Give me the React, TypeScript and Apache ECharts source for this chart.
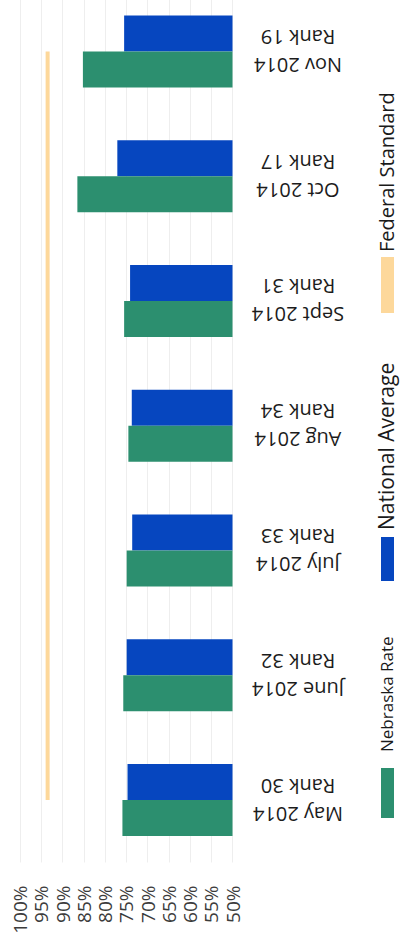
import React, { useEffect, useRef } from "react";
import * as echarts from "echarts";

// Monthly rates, 2014
const months = ["May 2014", "June 2014", "July 2014", "Aug 2014", "Sept 2014", "Oct 2014", "Nov 2014"];
const ranks = [30, 32, 33, 34, 31, 17, 19];
const nebraskaRate = [75.9, 75.7, 74.9, 74.5, 75.5, 86.5, 85.2];
const nationalAverage = [74.7, 74.9, 73.6, 73.7, 74.1, 77.1, 75.5];
const federalStandard = [93.5, 93.5, 93.5, 93.5, 93.5, 93.5, 93.5];
const valueTicks = { min: 50, max: 100, step: 5 };

const GREEN = "#2C8F6F";
const BLUE = "#0646BF";
const ORANGE = "#FDD89B";
const FONT = "'Open Sans', 'Noto Sans', sans-serif";

const categoryLabels = months.map((m, i) => `${m}\nRank ${ranks[i]}`);

// Legend entries stacked along the right edge, reading bottom-to-top
const legendItems = [
  { name: "Nebraska Rate", color: GREEN, swatchTop: 768, swatchH: 50, textStart: 752, size: 17 },
  { name: "National Average", color: BLUE, swatchTop: 537, swatchH: 44, textStart: 530, size: 21 },
  { name: "Federal Standard", color: ORANGE, swatchTop: 257, swatchH: 56, textStart: 252, size: 20 },
];

export default function App() {
  const ref = useRef<HTMLDivElement>(null);

  useEffect(() => {
    if (!ref.current) return;
    const chart = echarts.init(ref.current, null, { renderer: "svg" });

    const legendGraphics: any[] = [];
    legendItems.forEach((it) => {
      legendGraphics.push({
        type: "rect",
        shape: { x: 381, y: it.swatchTop, width: 13, height: it.swatchH },
        style: { fill: it.color },
      });
      legendGraphics.push({
        type: "text",
        x: 386,
        y: it.textStart,
        rotation: Math.PI / 2,
        style: {
          text: it.name,
          fill: "#1a1a1a",
          font: `${it.size}px ${FONT}`,
          align: "left",
          verticalAlign: "middle",
        },
      });
    });

    chart.setOption({
      animation: false,
      backgroundColor: "#ffffff",
      grid: {
        left: 20,
        right: 168.5,
        top: -11,
        bottom: 75.5,
        containLabel: false,
        outerBoundsMode: "none",
      },
      xAxis: {
        type: "value",
        inverse: true,
        position: "bottom",
        min: valueTicks.min,
        max: valueTicks.max,
        interval: valueTicks.step,
        axisLine: { show: false },
        axisTick: { show: false },
        splitLine: { show: true, lineStyle: { color: "#eeeeee", width: 1 } },
        axisLabel: {
          rotate: 90,
          margin: 23,
          formatter: "{value}%",
          fontSize: 19,
          fontFamily: FONT,
          color: "#3c3c3c",
          showMinLabel: true,
          showMaxLabel: true,
        },
      },
      yAxis: {
        type: "category",
        position: "right",
        data: categoryLabels,
        axisLine: { show: false },
        axisTick: { show: false },
        splitLine: { show: false },
        axisLabel: {
          interval: 0,
          rotate: 180,
          align: "center",
          verticalAlign: "middle",
          margin: 65.5,
          fontSize: 20,
          lineHeight: 28,
          fontFamily: FONT,
          color: "#1c1c1c",
        },
      },
      series: [
        {
          name: "National Average",
          type: "bar",
          data: nationalAverage,
          barWidth: 36,
          barGap: "0%",
          itemStyle: { color: BLUE },
        },
        {
          name: "Nebraska Rate",
          type: "bar",
          data: nebraskaRate,
          barWidth: 36,
          barGap: "0%",
          itemStyle: { color: GREEN },
        },
        {
          name: "Federal Standard",
          type: "line",
          data: federalStandard,
          showSymbol: false,
          symbol: "none",
          lineStyle: { color: ORANGE, width: 4 },
          itemStyle: { color: ORANGE },
        },
      ],
      graphic: legendGraphics,
    });

    return () => chart.dispose();
  }, []);

  return (
    <div
      ref={ref}
      style={{ position: "fixed", left: 0, top: 0, width: 401, height: 938, background: "#fff" }}
    />
  );
}
